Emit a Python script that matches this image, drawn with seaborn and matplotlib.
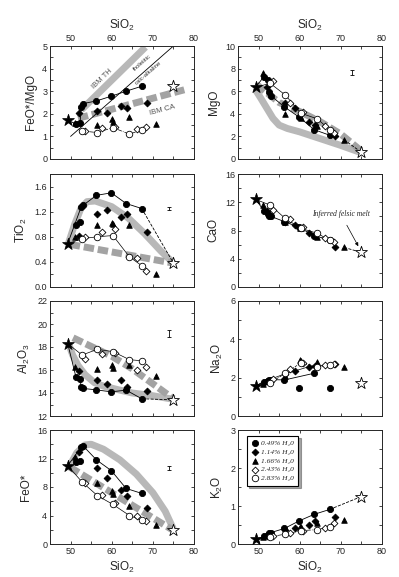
import matplotlib
matplotlib.use("Agg")
import matplotlib.pyplot as plt
import seaborn as sns
from matplotlib.ticker import MultipleLocator

# Panels (left to right, top to bottom)
oxides = ["FeO*/MgO", "MgO", "TiO2", "CaO", "Al2O3", "Na2O", "FeO*", "K2O"]
ylabels = ["FeO*/MgO", "MgO", "TiO$_2$", "CaO", "Al$_2$O$_3$", "Na$_2$O", "FeO*", "K$_2$O"]
ylims = [(0, 5), (0, 10), (0, 1.8), (0, 16), (12, 22), (0, 6), (0, 16), (0, 3)]
ymajor = [1, 2, 0.4, 4, 2, 2, 4, 1]

# Starting basalt and inferred felsic melt
start_melt = {"SiO2": 49.3, "FeO*/MgO": 1.72, "MgO": 6.35, "TiO2": 0.69, "CaO": 12.4,
              "Al2O3": 18.3, "Na2O": 1.57, "FeO*": 11.0, "K2O": 0.12}
felsic_melt = {"SiO2": 75.0, "FeO*/MgO": 3.22, "MgO": 0.59, "TiO2": 0.38, "CaO": 4.9,
               "Al2O3": 13.4, "Na2O": 1.74, "FeO*": 2.0, "K2O": 1.25}

# Experimental runs
run_049 = {"SiO2": [51.3, 52.3, 52.6, 53.0, 56.3, 59.9, 63.5, 67.3],
           "FeO*/MgO": [1.55, 1.60, 2.30, 2.45, 2.57, 2.78, 3.00, 3.22],
           "MgO": [7.3, 7.0, 5.9, 5.6, 4.6, 3.7, 2.6, 2.1],
           "TiO2": [0.98, 1.03, 1.28, 1.30, 1.46, 1.50, 1.33, 1.25],
           "CaO": [10.8, 10.4, 10.0, 10.0, 9.25, 8.45, 7.25, 6.7],
           "Al2O3": [15.4, 15.2, 14.5, 14.4, 14.27, 14.1, 14.25, 13.5],
           "Na2O": [1.80, 1.85, 1.88, 1.90, 1.88, 1.48, 2.23, 1.48],
           "FeO*": [11.5, 11.6, 13.6, 13.8, 11.8, 10.3, 7.8, 7.1],
           "K2O": [0.20, 0.25, 0.30, 0.30, 0.41, 0.61, 0.78, 0.91]}
run_114 = {"SiO2": [52.0, 56.4, 58.8, 62.2, 63.8, 68.5],
           "FeO*/MgO": [2.02, 2.12, 2.05, 2.34, 2.27, 2.46],
           "MgO": [6.4, 5.0, 4.5, 3.25, 3.0, 2.07],
           "TiO2": [0.82, 1.16, 1.22, 1.11, 1.16, 0.87],
           "CaO": [10.8, 9.2, 8.8, 7.6, 7.3, 5.7],
           "Al2O3": [15.9, 15.1, 14.8, 15.1, 14.5, 14.2],
           "Na2O": [1.85, 2.2, 2.35, 2.57, 2.6, 2.7],
           "FeO*": [12.9, 10.6, 9.2, 7.6, 6.8, 5.1],
           "K2O": [0.22, 0.38, 0.43, 0.50, 0.61, 0.71]}
run_166 = {"SiO2": [51.0, 56.4, 60.0, 60.2, 64.2, 70.8],
           "FeO*/MgO": [1.60, 1.51, 1.76, 1.65, 1.87, 1.55],
           "MgO": [7.6, 4.0, 3.8, 3.6, 2.9, 1.7],
           "TiO2": [0.80, 0.98, 1.02, 1.01, 0.98, 0.20],
           "CaO": [11.6, 9.2, 8.4, 8.3, 7.1, 5.6],
           "Al2O3": [16.3, 16.1, 16.45, 16.2, 16.4, 15.5],
           "Na2O": [1.67, 2.1, 2.9, 2.85, 2.83, 2.54],
           "FeO*": [12.2, 8.6, 7.5, 7.0, 5.3, 2.6],
           "K2O": [0.18, 0.35, 0.45, 0.45, 0.55, 0.63]}
run_243 = {"SiO2": [53.6, 57.6, 60.8, 66.2, 68.4],
           "FeO*/MgO": [1.25, 1.39, 1.40, 1.32, 1.40],
           "MgO": [6.9, 5.0, 4.15, 2.95, 2.3],
           "TiO2": [0.79, 0.87, 0.92, 0.46, 0.26],
           "CaO": [10.9, 9.6, 8.5, 6.9, 6.4],
           "Al2O3": [17.0, 17.4, 17.5, 16.0, 16.3],
           "Na2O": [1.95, 2.43, 2.75, 2.66, 2.7],
           "FeO*": [8.6, 6.9, 5.8, 3.9, 3.2],
           "K2O": [0.20, 0.30, 0.35, 0.43, 0.54]}
run_283 = {"SiO2": [52.8, 56.5, 60.3, 64.3, 67.3],
           "FeO*/MgO": [1.24, 1.17, 1.39, 1.10, 1.29],
           "MgO": [6.7, 5.66, 4.05, 3.55, 2.58],
           "TiO2": [0.77, 0.80, 0.82, 0.48, 0.34],
           "CaO": [11.6, 9.7, 8.3, 7.6, 6.6],
           "Al2O3": [17.3, 17.8, 17.6, 16.9, 16.8],
           "Na2O": [1.74, 2.22, 2.78, 2.54, 2.66],
           "FeO*": [8.7, 6.8, 5.55, 4.0, 3.3],
           "K2O": [0.19, 0.26, 0.35, 0.38, 0.45]}

run_labels = ["0.49% H\u20820", "1.14% H\u20820", "1.66% H\u20820", "2.43% H\u20820", "2.83% H\u20820"]

# IBM tholeiitic (solid gray) and calc-alkaline (dashed gray) trends
ibm_th = {"FeO*/MgO": ([52.6, 68.2], [2.17, 4.95]),
          "MgO": ([49.3, 50.5, 52.0, 53.5, 55.0, 57.0, 60.0, 65.0, 70.0, 75.0],
                  [6.1, 5.4, 4.5, 3.6, 3.0, 2.7, 2.4, 1.8, 1.2, 0.55]),
          "TiO2": ([49.5, 51.0, 52.5, 54.0, 56.0, 60.0, 64.0, 68.0, 72.0, 75.0],
                   [0.70, 1.0, 1.25, 1.36, 1.37, 1.28, 1.10, 0.85, 0.57, 0.38]),
          "Al2O3": ([49.5, 50.5, 51.8, 53.5, 55.8, 58.0, 61.4, 65.0, 69.4, 75.0],
                    [18.3, 17.3, 16.4, 15.6, 14.9, 14.6, 14.3, 14.0, 13.8, 13.45]),
          "FeO*": ([49.8, 51.5, 53.5, 55.0, 58.0, 62.0, 66.0, 70.0, 73.0, 75.0],
                   [11.0, 12.8, 13.9, 14.0, 13.3, 11.8, 9.8, 7.2, 4.6, 2.1])}
ibm_ca = {"FeO*/MgO": ([51.8, 77.8], [1.8, 3.07]),
          "MgO": ([49.5, 55.0, 60.0, 65.0, 70.0, 75.0], [6.6, 5.0, 4.2, 3.3, 2.2, 0.7]),
          "TiO2": ([49.8, 75.0], [0.68, 0.38]),
          "Al2O3": ([50.6, 60.0, 65.0, 70.0, 75.0], [18.8, 17.2, 16.1, 14.8, 13.5]),
          "FeO*": ([49.8, 75.0], [10.8, 1.9])}
miyashiro_x = [50, 75]
miyashiro_y = [1.0, 5.0]

# analytical error bars (x, y, half-width)
errbars = {"MgO": (72.6, 7.65, 0.25), "TiO2": (73.9, 1.25, 0.03),
           "Al2O3": (73.9, 19.2, 0.3), "FeO*": (73.9, 10.7, 0.3)}

# which 0.49% points the drawn trend skips
trend_skip = {"FeO*": [0, 1], "TiO2": [0, 1], "Na2O": [5, 7]}
open_style = {"FeO*/MgO": "-.", "Na2O": "--", "K2O": "-."}

sns.set_style("ticks")
plt.rcParams["font.family"] = ["Liberation Sans", "DejaVu Sans"]
plt.rcParams["mathtext.fontset"] = "custom"
plt.rcParams["mathtext.rm"] = "Liberation Sans"
plt.rcParams["mathtext.default"] = "regular"

fig = plt.figure(figsize=(3.99, 5.77), dpi=100)
W, H = 399, 577
cols = [(50, 194), (238, 382)]
rows = [(46, 159), (174, 287), (301, 416), (430, 544)]

runs = [run_049, run_114, run_166, run_243, run_283]
marks = [("o", "black", 20), ("D", "black", 12), ("^", "black", 16), ("D", "white", 12), ("o", "white", 22)]
serif = ["Liberation Serif", "DejaVu Serif"]

for i, ox in enumerate(oxides):
    r, c = divmod(i, 2)
    x0, x1 = cols[c]
    t, b = rows[r]
    ax = fig.add_axes([x0 / W, 1 - b / H, (x1 - x0) / W, (b - t) / H])

    # gray IBM trends
    if ox in ibm_th:
        sns.lineplot(x=ibm_th[ox][0], y=ibm_th[ox][1], ax=ax, sort=False, estimator=None,
                     color="#b8b8b8", lw=5, solid_capstyle="butt", zorder=1)
    if ox in ibm_ca:
        sns.lineplot(x=ibm_ca[ox][0], y=ibm_ca[ox][1], ax=ax, sort=False, estimator=None,
                     color="#a3a3a3", lw=5, linestyle=(0, (1.5, 0.55)),
                     dash_capstyle="butt", zorder=1)
    if ox == "FeO*/MgO":
        sns.lineplot(x=miyashiro_x, y=miyashiro_y, ax=ax, sort=False, estimator=None,
                     color="black", lw=0.6, zorder=2)

    # trend through 0.49% runs
    skip = trend_skip.get(ox, [])
    tx = [start_melt["SiO2"]] + [v for k, v in enumerate(run_049["SiO2"]) if k not in skip]
    ty = [start_melt[ox]] + [v for k, v in enumerate(run_049[ox]) if k not in skip]
    sns.lineplot(x=tx, y=ty, ax=ax, sort=False, estimator=None, color="black", lw=0.6, zorder=2)
    if ox in ["TiO2", "Al2O3", "K2O"]:
        sns.lineplot(x=[tx[-1], felsic_melt["SiO2"]], y=[ty[-1], felsic_melt[ox]], ax=ax,
                     sort=False, estimator=None, color="black", lw=0.6, linestyle="--", zorder=2)
    if ox in ["MgO", "CaO"]:
        sns.lineplot(x=[run_166["SiO2"][-1], felsic_melt["SiO2"]],
                     y=[run_166[ox][-1], felsic_melt[ox]], ax=ax,
                     sort=False, estimator=None, color="black", lw=0.6, linestyle="--", zorder=2)
    if ox == "Na2O":
        sns.lineplot(x=[start_melt["SiO2"]] + run_114["SiO2"], y=[start_melt[ox]] + run_114[ox],
                     ax=ax, sort=False, estimator=None, color="black", lw=0.5, zorder=2)

    # trend through 2.83% runs
    ox_x = list(run_283["SiO2"])
    ox_y = list(run_283[ox])
    if ox != "FeO*/MgO":
        ox_x = [start_melt["SiO2"]] + ox_x
        ox_y = [start_melt[ox]] + ox_y
    sns.lineplot(x=ox_x, y=ox_y, ax=ax, sort=False, estimator=None, color="black", lw=0.5,
                 linestyle=open_style.get(ox, "-"), zorder=2)

    # experimental products
    for run, (m, fc, s), lab in zip(runs, marks, run_labels):
        sns.scatterplot(x=run["SiO2"], y=run[ox], ax=ax, marker=m, s=s, color=fc,
                        edgecolor="black", linewidth=0.6, zorder=3, label=lab)

    # starting basalt and inferred felsic melt
    sns.scatterplot(x=[start_melt["SiO2"]], y=[start_melt[ox]], ax=ax, marker="*", s=80,
                    color="black", edgecolor="black", linewidth=0.5, zorder=4)
    sns.scatterplot(x=[felsic_melt["SiO2"]], y=[felsic_melt[ox]], ax=ax, marker="*", s=80,
                    color="white", edgecolor="black", linewidth=0.6, zorder=4)

    if ox in errbars:
        ex, ey, ee = errbars[ox]
        ax.errorbar(ex, ey, yerr=ee, fmt="none", ecolor="black", elinewidth=0.6,
                    capsize=1.5, capthick=0.6)

    ax.set_xlim(45, 80)
    ax.set_ylim(*ylims[i])
    ax.xaxis.set_major_locator(MultipleLocator(10))
    ax.xaxis.set_minor_locator(MultipleLocator(5))
    ax.yaxis.set_major_locator(MultipleLocator(ymajor[i]))
    ax.yaxis.set_minor_locator(MultipleLocator(ymajor[i] / 2))
    ax.tick_params(which="both", direction="in", top=True, right=True, length=2.5,
                   width=0.6, labelsize=6.5, pad=2)
    for sp in ax.spines.values():
        sp.set_linewidth(0.7)
    ax.tick_params(labeltop=(r == 0), labelbottom=(r == 3))
    if r == 0:
        ax.xaxis.set_label_position("top")
        ax.set_xlabel("SiO$_2$", fontsize=8.5, labelpad=4)
    elif r == 3:
        ax.set_xlabel("SiO$_2$", fontsize=8.5, labelpad=3)
    else:
        ax.set_xlabel("")
    ax.set_ylabel(ylabels[i], fontsize=8.5, labelpad=4)

    if ox == "K2O":
        h, l = ax.get_legend_handles_labels()
        leg = ax.legend(h, l, loc="upper left", bbox_to_anchor=(0.06, 0.95),
                        prop={"family": serif, "style": "italic", "size": 5.3},
                        frameon=True, fancybox=False, shadow=True, edgecolor="black",
                        borderpad=0.6, labelspacing=0.35, handletextpad=0.3,
                        handlelength=1.0, borderaxespad=0)
        leg.get_frame().set_linewidth(0.8)
    else:
        if ax.get_legend() is not None:
            ax.get_legend().remove()

    if ox == "FeO*/MgO":
        ax.text(57.8, 3.56, "IBM TH", fontsize=5.5, color="#555555", rotation=44,
                ha="center", va="center")
        ax.text(67.4, 4.25, "tholeiitic", fontsize=4.3, color="#333333", rotation=41,
                ha="center", va="center")
        ax.text(69.0, 3.8, "calc-alkaline", fontsize=4.3, color="#333333", rotation=41,
                ha="center", va="center")
        ax.text(72.4, 2.15, "IBM CA", fontsize=5.5, color="#555555", rotation=15,
                ha="center", va="center")
    if ox == "CaO":
        ax.annotate("Inferred felsic melt", xy=(74.4, 5.6), xytext=(70.0, 10.3),
                    ha="center", va="center", fontsize=5.5, style="italic", family=serif,
                    arrowprops=dict(arrowstyle="-|>", lw=0.5, color="black",
                                    mutation_scale=5, shrinkA=3, shrinkB=1))

fig.savefig("out.png", dpi=100)
